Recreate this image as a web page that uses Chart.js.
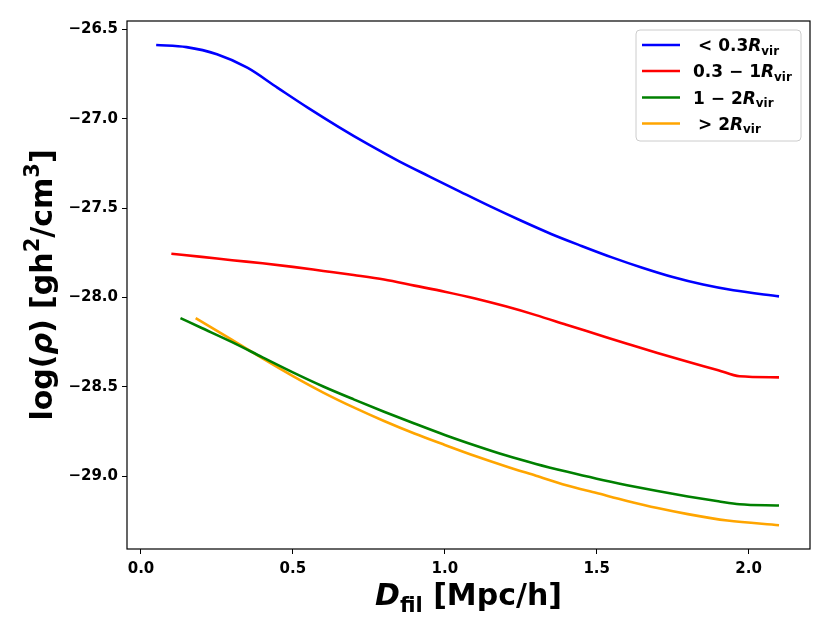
<!DOCTYPE html>
<html>
<head>
<meta charset="utf-8">
<script src="https://cdn.jsdelivr.net/npm/chart.js@4/dist/chart.umd.min.js"></script>
<style>
  body { margin: 0; background: #fff; }
  #wrap { width: 830px; height: 625px; }
</style>
</head>
<body>
<div id="wrap"><canvas id="myChart" width="830" height="625"></canvas></div>
<script>
// values
var innerX = [0.05, 0.15, 0.25, 0.35, 0.45, 0.55, 0.65, 0.75, 0.85, 0.95, 1.05, 1.15, 1.25, 1.35, 1.45, 1.55, 1.65, 1.75, 1.85, 1.95, 2.1];
var innerY = [-26.588, -26.600, -26.640, -26.715, -26.828, -26.940, -27.046, -27.146, -27.239, -27.324, -27.408, -27.491, -27.570, -27.645, -27.712, -27.776, -27.834, -27.886, -27.928, -27.960, -27.994];

var midX = [0.1, 0.2, 0.3, 0.4, 0.5, 0.6, 0.7, 0.8, 0.9, 1.0, 1.1, 1.2, 1.3, 1.4, 1.5, 1.6, 1.7, 1.8, 1.9, 1.97, 2.1];
var midY = [-27.756, -27.773, -27.792, -27.809, -27.829, -27.852, -27.875, -27.900, -27.934, -27.968, -28.006, -28.050, -28.099, -28.153, -28.206, -28.259, -28.311, -28.360, -28.407, -28.441, -28.447];

var outerX = [0.13, 0.2, 0.3, 0.4, 0.5, 0.6, 0.7, 0.8, 0.9, 1.0, 1.1, 1.2, 1.3, 1.4, 1.5, 1.6, 1.7, 1.8, 1.9, 1.97, 2.1];
var outerY = [-28.116, -28.171, -28.250, -28.335, -28.419, -28.498, -28.570, -28.639, -28.705, -28.769, -28.828, -28.883, -28.931, -28.974, -29.014, -29.050, -29.083, -29.113, -29.140, -29.157, -29.164];

var farX = [0.18, 0.3, 0.4, 0.5, 0.6, 0.7, 0.8, 0.9, 1.0, 1.1, 1.2, 1.3, 1.4, 1.5, 1.6, 1.7, 1.8, 1.93, 2.1];
var farY = [-28.116, -28.238, -28.341, -28.440, -28.532, -28.615, -28.691, -28.761, -28.825, -28.887, -28.944, -28.997, -29.050, -29.094, -29.138, -29.178, -29.212, -29.248, -29.274];

var legendLabels = ['< 0.3', '0.3 \u2212 1', '1 \u2212 2', '> 2'];
var xTicks = [0.0, 0.5, 1.0, 1.5, 2.0];
var yTicks = [-26.5, -27.0, -27.5, -28.0, -28.5, -29.0];

var FONT = '"DejaVu Sans", "Liberation Sans", sans-serif';

function pts(xs, ys) {
    return xs.map(function(x, i) { return { x: x, y: ys[i] }; });
}

function line(idx, xs, ys, color) {
    return {
        label: legendLabels[idx] + 'R_vir',
        data: pts(xs, ys),
        borderColor: color,
        backgroundColor: color,
        borderWidth: 2.6,
        pointRadius: 0,
        fill: false,
        cubicInterpolationMode: 'monotone'
    };
}

function minus(v) {
    return v.toFixed(1).replace('-', '\u2212');
}

// draws a run of text pieces, each {t, italic, sub, sup}
function drawRuns(ctx, runs, x, y, size) {
    var cx = x;
    runs.forEach(function(r) {
        var s = (r.sub || r.sup) ? size * 0.7 : size;
        ctx.font = (r.italic ? 'italic ' : '') + 'bold ' + s + 'px ' + FONT;
        var dy = r.sub ? size * 0.22 : (r.sup ? -size * 0.42 : 0);
        ctx.fillText(r.t, cx, y + dy);
        cx += ctx.measureText(r.t).width;
    });
    return cx - x;
}

function runsWidth(ctx, runs, size) {
    var w = 0;
    runs.forEach(function(r) {
        var s = (r.sub || r.sup) ? size * 0.7 : size;
        ctx.font = (r.italic ? 'italic ' : '') + 'bold ' + s + 'px ' + FONT;
        w += ctx.measureText(r.t).width;
    });
    return w;
}

var decorations = {
    id: 'decorations',
    afterDraw: function(chart) {
        var ctx = chart.ctx;
        var a = chart.chartArea;
        ctx.save();

        // frame on all four sides
        ctx.strokeStyle = '#000';
        ctx.lineWidth = 1.2;
        ctx.strokeRect(a.left, a.top, a.right - a.left, a.bottom - a.top);

        ctx.fillStyle = '#000';
        ctx.textBaseline = 'alphabetic';
        ctx.textAlign = 'left';

        // x axis title
        var xRuns = [{ t: 'D', italic: true }, { t: 'fil', sub: true }, { t: ' [Mpc/h]' }];
        var xw = runsWidth(ctx, xRuns, 30);
        drawRuns(ctx, xRuns, (a.left + a.right) / 2 - xw / 2, 605, 30);

        // y axis title
        var yRuns = [{ t: 'log(' }, { t: '\u03c1', italic: true }, { t: ') [gh' }, { t: '2', sup: true },
                     { t: '/cm' }, { t: '3', sup: true }, { t: ']' }];
        var yw = runsWidth(ctx, yRuns, 30);
        ctx.save();
        ctx.translate(52, (a.top + a.bottom) / 2);
        ctx.rotate(-Math.PI / 2);
        drawRuns(ctx, yRuns, -yw / 2, 0, 30);
        ctx.restore();

        // legend
        var bx = 636, by = 30, bw = 165, bh = 111;
        ctx.beginPath();
        ctx.roundRect(bx, by, bw, bh, 4);
        ctx.fillStyle = 'rgba(255,255,255,0.8)';
        ctx.fill();
        ctx.strokeStyle = '#cccccc';
        ctx.lineWidth = 1;
        ctx.stroke();

        var rows = [45, 71, 97.5, 123.5];
        chart.data.datasets.forEach(function(ds, i) {
            var ry = rows[i];
            ctx.strokeStyle = ds.borderColor;
            ctx.lineWidth = 2.6;
            ctx.beginPath();
            ctx.moveTo(642, ry);
            ctx.lineTo(680, ry);
            ctx.stroke();

            ctx.fillStyle = '#000';
            var lbl = legendLabels[i];
            var tx = (lbl[0] === '<' || lbl[0] === '>') ? 698 : 693;
            drawRuns(ctx, [{ t: lbl }, { t: 'R', italic: true }, { t: 'vir', sub: true }], tx, ry + 6, 17);
        });

        ctx.restore();
    }
};

var ctx = document.getElementById('myChart');
var myChart = new Chart(ctx, {
    type: 'line',
    data: {
        datasets: [
            line(0, innerX, innerY, '#0000ff'),
            line(1, midX, midY, '#ff0000'),
            line(2, outerX, outerY, '#008000'),
            line(3, farX, farY, '#ffa500')
        ]
    },
    options: {
        responsive: false,
        animation: false,
        devicePixelRatio: 1,
        layout: { padding: { left: 0, top: 21, right: 20, bottom: 0 } },
        plugins: {
            legend: { display: false },
            tooltip: { enabled: false }
        },
        scales: {
            x: {
                type: 'linear',
                min: -0.046,
                max: 2.202,
                afterFit: function(scale) { scale.height = 76; },
                afterBuildTicks: function(scale) {
                    scale.ticks = xTicks.map(function(v) { return { value: v }; });
                },
                grid: { drawOnChartArea: false, drawTicks: true, tickLength: 5, color: '#000', lineWidth: 1 },
                border: { display: false },
                ticks: {
                    color: '#000',
                    padding: 6,
                    maxRotation: 0,
                    font: { family: FONT, size: 15, weight: 'bold' },
                    callback: function(v) { return minus(v); }
                }
            },
            y: {
                type: 'linear',
                min: -29.407,
                max: -26.454,
                afterFit: function(scale) { scale.width = 127; },
                afterBuildTicks: function(scale) {
                    scale.ticks = yTicks.map(function(v) { return { value: v }; });
                },
                grid: { drawOnChartArea: false, drawTicks: true, tickLength: 5, color: '#000', lineWidth: 1 },
                border: { display: false },
                ticks: {
                    color: '#000',
                    padding: 4,
                    font: { family: FONT, size: 15, weight: 'bold' },
                    callback: function(v) { return minus(v); }
                }
            }
        }
    },
    plugins: [decorations]
});
</script>
</body>
</html>
